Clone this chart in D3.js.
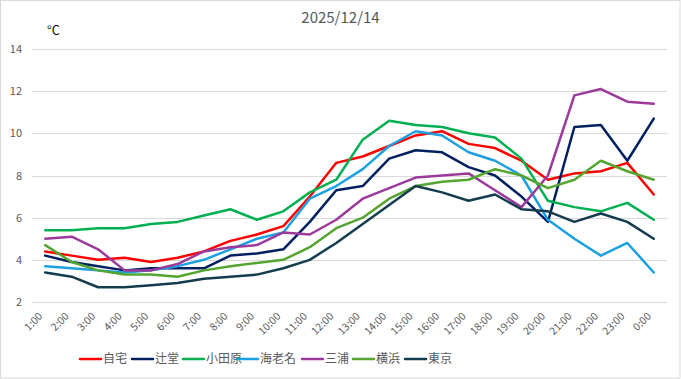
<!DOCTYPE html>
<html><head><meta charset="utf-8">
<script src="https://cdn.jsdelivr.net/npm/d3@7/dist/d3.min.js"></script>
<style>
html,body{margin:0;padding:0;background:#fff;}
text{font-family:"Noto Sans CJK JP","Noto Sans",sans-serif;}
</style></head>
<body><svg id="c" width="681" height="379"></svg>
<script>
const title = "2025/12/14";
const unitLabel = "°C";
const hours = ["1:00","2:00","3:00","4:00","5:00","6:00","7:00","8:00","9:00","10:00","11:00","12:00","13:00","14:00","15:00","16:00","17:00","18:00","19:00","20:00","21:00","22:00","23:00","0:00"];
const yTicks = [2,4,6,8,10,12,14];
const seriesNames = ["自宅","辻堂","小田原","海老名","三浦","横浜","東京"];
const seriesColors = ["#ff0000","#002060","#00b050","#1ba1e2","#9b3a9b","#55a630","#133c4e"];
const home     = [4.4,4.2,4.0,4.1,3.9,4.1,4.4,4.9,5.2,5.6,7.0,8.6,8.9,9.4,9.9,10.1,9.5,9.3,8.7,7.8,8.1,8.2,8.6,7.1];
const tsujido  = [4.2,3.9,3.7,3.5,3.6,3.6,3.6,4.2,4.3,4.5,5.8,7.3,7.5,8.8,9.2,9.1,8.4,8.0,7.0,5.8,10.3,10.4,8.7,10.7];
const odawara  = [5.4,5.4,5.5,5.5,5.7,5.8,6.1,6.4,5.9,6.3,7.2,7.8,9.7,10.6,10.4,10.3,10.0,9.8,8.8,6.8,6.5,6.3,6.7,5.9];
const ebina    = [3.7,3.6,3.5,3.4,3.5,3.7,4.0,4.5,5.0,5.3,6.9,7.5,8.3,9.4,10.1,9.9,9.1,8.7,8.0,5.9,5.0,4.2,4.8,3.4];
const miura    = [5.0,5.1,4.5,3.5,3.5,3.8,4.4,4.6,4.7,5.3,5.2,5.9,6.9,7.4,7.9,8.0,8.1,7.3,6.5,8.0,11.8,12.1,11.5,11.4];
const yokohama = [4.7,3.9,3.5,3.3,3.3,3.2,3.5,3.7,3.85,4.0,4.6,5.5,6.0,6.9,7.5,7.7,7.8,8.3,8.0,7.4,7.8,8.7,8.2,7.8];
const tokyo    = [3.4,3.2,2.7,2.7,2.8,2.9,3.1,3.2,3.3,3.6,4.0,4.8,5.7,6.6,7.5,7.2,6.8,7.1,6.4,6.3,5.8,6.2,5.8,5.0];
const seriesValues = [home,tsujido,odawara,ebina,miura,yokohama,tokyo];

const svg = d3.select("#c");
const W = 681, H = 379;
const plot = {left:32, right:667, top:49, bottom:302};

svg.append("rect").attr("x",0.5).attr("y",0.5).attr("width",W-1.5).attr("height",H-1.5)
  .attr("fill","#fff").attr("stroke","#d9d9d9");

const x = d3.scaleBand().domain(hours).range([plot.left, plot.right]);
const y = d3.scaleLinear().domain([2,14]).range([plot.bottom, plot.top]);

// gridlines
svg.append("g").selectAll("line").data(yTicks).join("line")
  .attr("x1",plot.left).attr("x2",plot.right)
  .attr("y1",d=>Math.round(y(d))+0.5).attr("y2",d=>Math.round(y(d))+0.5)
  .attr("stroke","#d9d9d9").attr("stroke-width",1);

// y axis labels
const yAxis = d3.axisLeft(y).tickValues(yTicks).tickSize(0).tickPadding(0);
const gy = svg.append("g").attr("transform",`translate(22,0)`).call(yAxis);
gy.select(".domain").remove();
gy.selectAll("text").attr("fill","#595959").style("font-size","11px")
  .style("font-family","'Noto Sans CJK JP',sans-serif");

// x axis labels
const xAxis = d3.axisBottom(x).tickSize(0).tickPadding(0);
const gx = svg.append("g").attr("transform",`translate(0,${plot.bottom})`).call(xAxis);
gx.select(".domain").remove();
gx.selectAll("text").attr("fill","#595959").style("font-size","10.5px")
  .attr("text-anchor","end").attr("dy",0)
  .attr("transform","translate(-2,15) rotate(-45)")
  .style("font-family","'Noto Sans CJK JP',sans-serif");

// lines
const line = d3.line().x((d,i)=>x(hours[i])+x.bandwidth()/2).y(d=>y(d));
svg.append("g").selectAll("path").data(seriesValues).join("path")
  .attr("d",d=>line(d)).attr("fill","none")
  .attr("stroke",(d,i)=>seriesColors[i]).attr("stroke-width",2.5)
  .attr("stroke-linejoin","round").attr("stroke-linecap","round");

// title
svg.append("text").attr("x",W/2).attr("y",23).attr("text-anchor","middle")
  .attr("fill","#595959").style("font-size","15px").text(title);
svg.append("text").attr("x",47).attr("y",35).attr("fill","#000")
  .style("font-size","12.5px").text(unitLabel);

// legend
const legendX = [80,132,183,237,302,353,405];
const lg = svg.append("g").attr("transform","translate(0,359)");
const items = lg.selectAll("g").data(seriesNames).join("g")
  .attr("transform",(d,i)=>`translate(${legendX[i]},0)`);
items.append("line").attr("x1",0).attr("x2",21).attr("y1",0).attr("y2",0)
  .attr("stroke",(d,i)=>seriesColors[i]).attr("stroke-width",2.5).attr("stroke-linecap","round");
items.append("text").attr("x",23).attr("y",0).attr("dy","0.35em")
  .attr("fill","#595959").style("font-size","12px").text(d=>d);
</script></body></html>
